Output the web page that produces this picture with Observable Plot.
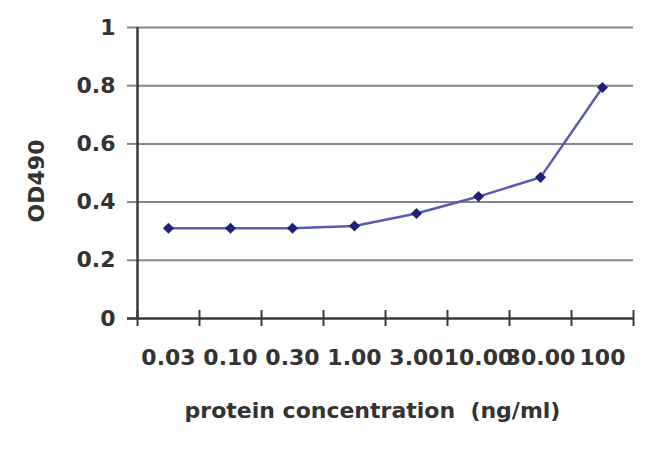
<!DOCTYPE html>
<html>
<head>
<meta charset="utf-8">
<script src="https://cdn.jsdelivr.net/npm/d3@7"></script>
<script src="https://cdn.jsdelivr.net/npm/@observablehq/plot@0.6"></script>
<style>
  html, body { margin: 0; padding: 0; background: #fff; }
  #chart svg { display: block; }
</style>
</head>
<body>
<div id="chart"></div>
<script>
const concentrations = ["0.03", "0.10", "0.30", "1.00", "3.00", "10.00", "30.00", "100"];
const od490 = [0.31, 0.31, 0.31, 0.318, 0.361, 0.419, 0.485, 0.794];
const yTicks = [0, 0.2, 0.4, 0.6, 0.8, 1];
const yLabel = "OD490";
const xLabel = "protein concentration  (ng/ml)";

const rows = concentrations.map((c, i) => ({c, pos: i + 0.5, v: od490[i]}));
const boundaries = d3.range(concentrations.length + 1);
const centers = rows.map(d => d.pos);

const font = "DejaVu Sans";
const textColor = "#333";

const chart = Plot.plot({
  width: 650,
  height: 450,
  marginTop: 27,
  marginBottom: 132,
  marginLeft: 137,
  marginRight: 17,
  style: {fontFamily: font, fontWeight: "bold", fontSize: "22px", color: textColor, background: "#fff"},
  x: {domain: [0, concentrations.length], axis: null},
  y: {domain: [0, 1], axis: null},
  marks: [
    // gridlines
    Plot.ruleY(yTicks.filter(d => d > 0), {stroke: "#858585", strokeWidth: 2}),
    // y axis ticks + labels
    Plot.axisY({ticks: yTicks, tickSize: 10, tickPadding: 12, tickFormat: d => String(d),
      stroke: "#858585", strokeWidth: 2, fill: textColor, fontSize: 22, fontWeight: "bold", label: null}),
    Plot.axisY({ticks: [0], tickSize: 10, tickFormat: () => "", stroke: "#3a3a3a", strokeWidth: 2.5, label: null}),
    // axis lines
    Plot.ruleX([0], {stroke: "#3a3a3a", strokeWidth: 2.5}),
    Plot.ruleY([0], {stroke: "#3a3a3a", strokeWidth: 2.5}),
    // x boundary ticks crossing axis
    Plot.axisX({ticks: boundaries, tickSize: 16, dy: -8, tickFormat: () => "", stroke: "#3a3a3a", strokeWidth: 2, label: null}),
    // x category labels
    Plot.axisX({ticks: centers, tickSize: 0, tickPadding: 31, tickFormat: d => concentrations[Math.floor(d)],
      fill: textColor, fontSize: 22, fontWeight: "bold", label: null}),
    // data
    Plot.line(rows, {x: "pos", y: "v", stroke: "#5b5bb3", strokeWidth: 2.5}),
    Plot.dot(rows, {x: "pos", y: "v", symbol: "diamond2", r: 5, fill: "#20207a", stroke: "none"}),
    // axis titles
    Plot.text([yLabel], {frameAnchor: "left", rotate: -90, dx: -101, dy: 8, text: d => d,
      fill: textColor, fontSize: 22, fontWeight: "bold", textAnchor: "middle", lineAnchor: "middle"}),
    Plot.text([xLabel], {frameAnchor: "bottom", dx: -13, dy: 92, text: d => d,
      fill: textColor, fontSize: 22, fontWeight: "bold", textAnchor: "middle", lineAnchor: "middle"})
  ]
});
document.getElementById("chart").appendChild(chart);
</script>
</body>
</html>
